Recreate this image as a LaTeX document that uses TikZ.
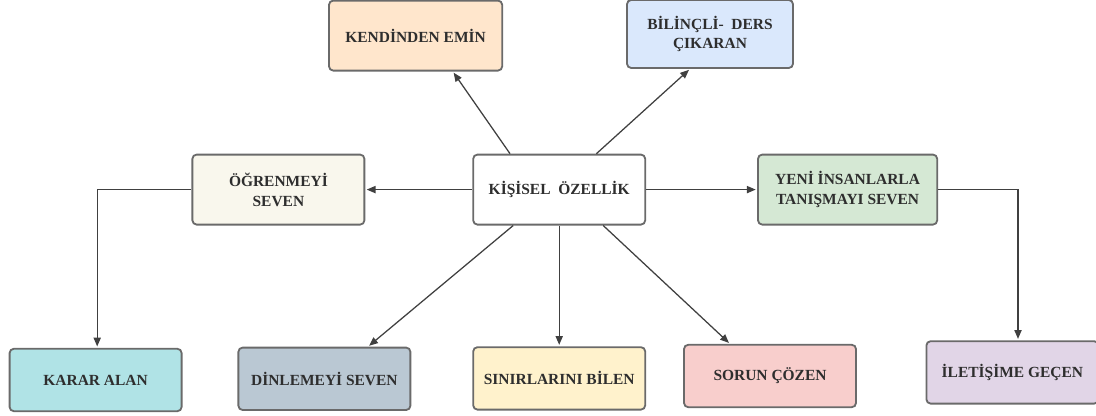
\documentclass[tikz,border=0pt]{standalone}
\usepackage{fontspec}
\setmainfont{Liberation Serif}
\usetikzlibrary{arrows.meta}
\definecolor{kendiC}{HTML}{FFE6CC}
\definecolor{bilincC}{HTML}{DAE8FC}
\definecolor{ogrenC}{HTML}{F9F7ED}
\definecolor{yeniC}{HTML}{D5E8D4}
\definecolor{kararC}{HTML}{B0E3E6}
\definecolor{dinleC}{HTML}{BAC8D3}
\definecolor{sinirC}{HTML}{FFF2CC}
\definecolor{sorunC}{HTML}{F8CECC}
\definecolor{iletiC}{HTML}{E1D5E7}
\definecolor{kenarC}{HTML}{6A6A6A}
\definecolor{yaziC}{HTML}{2E2E2E}
\tikzset{
	box/.style={draw=kenarC, line width=1.3pt, rounded corners=3pt, shape=rectangle, minimum width=4.3cm, minimum height=1.75cm, inner sep=0, align=center, text=yaziC, font=\fontsize{11}{14}\selectfont\bfseries},
	ok/.style={-{Triangle[length=2.2mm,width=1.8mm]}, draw=black!75, line width=0.9pt, shorten >=1pt}
}
\begin{document}
\begin{tikzpicture}
			\useasboundingbox (0,0) rectangle (27.4,10.4);
			% middle row
			\node[box, fill=white] (kisisel) at (13.98,5.66) {KİŞİSEL\ \ ÖZELLİK};
			\node[box, fill=ogrenC] (ogren) at (6.96,5.66) {ÖĞRENMEYİ\\SEVEN};
			\node[box, fill=yeniC, minimum width=4.48cm] (yeni) at (21.19,5.66) {YENİ İNSANLARLA\\TANIŞMAYI SEVEN};
			% top row
			\node[box, fill=kendiC, minimum width=4.33cm] (kendi) at (10.39,9.51) {KENDİNDEN EMİN};
			\node[box, fill=bilincC, minimum width=4.15cm, minimum height=1.7cm] (bilinc) at (17.75,9.55) {BİLİNÇLİ-\ \ DERS\\ÇIKARAN};
			% bottom row
			\foreach \nm/\x/\y/\col/\txt in {karar/2.39/0.90/kararC/KARAR ALAN,dinle/8.11/0.93/dinleC/DİNLEMEYİ SEVEN,sinir/13.98/0.94/sinirC/SINIRLARINI BİLEN,sorun/19.25/1.00/sorunC/SORUN ÇÖZEN,ileti/25.31/1.09/iletiC/İLETİŞİME GEÇEN}
			{
				\node[box, fill=\col, minimum width=4.3cm, minimum height=1.56cm] (\nm) at (\x,\y){\txt};
			}
			\draw[ok] ([xshift=-1.23cm]kisisel.north) -- ([xshift=0.93cm]kendi.south);
			\draw[ok] ([xshift=0.93cm]kisisel.north) -- ([xshift=-0.5cm]bilinc.south);
			\draw[ok] (kisisel.west) -- (ogren.east);
			\draw[ok] (kisisel.east) -- (yeni.west);
			\draw[ok] (ogren.west) -| ([xshift=0.04cm]karar.north);
			\draw[ok] (yeni.east) -| ([xshift=0.14cm]ileti.north);
			\draw[ok] ([xshift=-1.15cm]kisisel.south) -- ([xshift=1.09cm]dinle.north);
			\draw[ok] (kisisel.south) -- (sinir.north);
			\draw[ok] ([xshift=1.1cm]kisisel.south) -- ([xshift=-1.0cm]sorun.north);
		\end{tikzpicture}
\end{document}
